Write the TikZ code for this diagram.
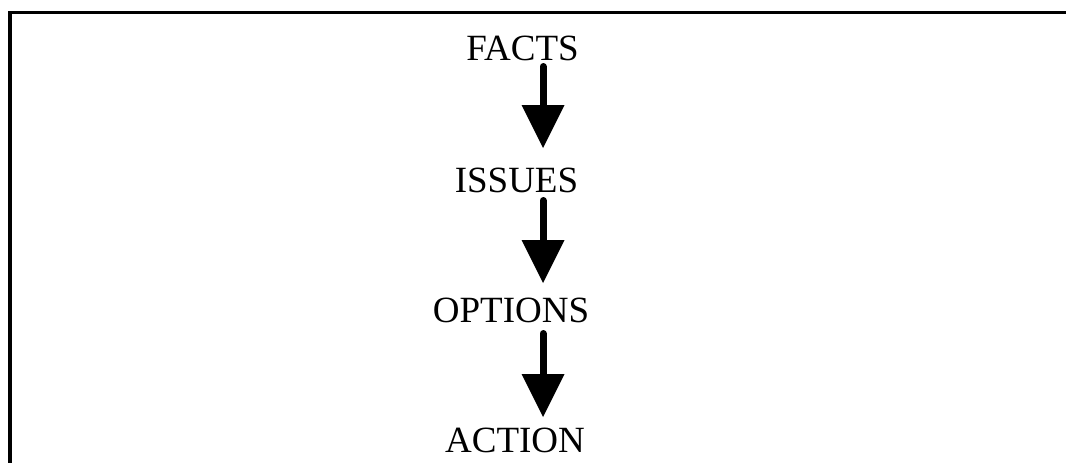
\documentclass[tikz,border=0pt]{standalone}
\usepackage{fontspec}
\setmainfont{Liberation Serif}
\usetikzlibrary{arrows.meta}
\begin{document}
\begin{tikzpicture}[x=1pt,y=-1pt,
  stage/.style={anchor=base,inner sep=0pt,font=\fontsize{37}{40}\selectfont},
  flow/.style={line width=7pt,line cap=round,
    -{Triangle[width=43pt,length=43pt,line width=0pt,round=false]}}]
  \useasboundingbox (0,0) rectangle (1066,463);
  % open frame: left and top edges only
  \draw[line width=3.5pt,miter limit=10] (10,470) -- (10,12.5) -- (1070,12.5);
  % stages
  \node[stage] (facts)   at (522.5,60)  {FACTS};
  \node[stage] (issues)  at (516.5,192) {ISSUES};
  \node[stage] (options) at (511,322)   {OPTIONS};
  \node[stage] (action)  at (515,452)   {ACTION};
  % arrows between stages
  \draw[flow] ([xshift=20.5pt,yshift=-6.5pt]facts.base)
    -- ([xshift=26.5pt,yshift=44pt]issues.base);
  \draw[flow] ([xshift=26.5pt,yshift=-8.5pt]issues.base)
    -- ([xshift=32pt,yshift=39pt]options.base);
  \draw[flow] ([xshift=32pt,yshift=-11.5pt]options.base)
    -- ([xshift=28pt,yshift=35pt]action.base);
\end{tikzpicture}
\end{document}
